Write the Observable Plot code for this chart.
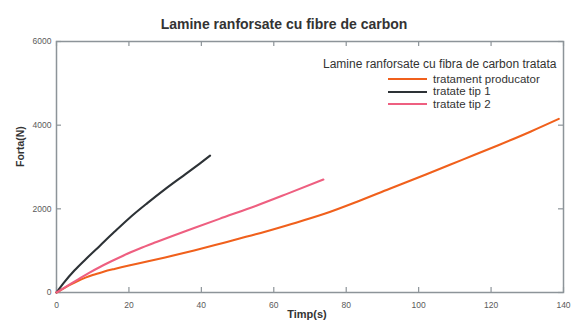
<!DOCTYPE html>
<html>
<head>
<meta charset="utf-8">
<script src="https://cdn.jsdelivr.net/npm/d3@7"></script>
<script src="https://cdn.jsdelivr.net/npm/@observablehq/plot@0.6"></script>
<style>
  body { margin: 0; background: #fff; font-family: "Liberation Sans", Arial, sans-serif; }
  #chart { position: relative; width: 571px; height: 322px; }
  #legend { position: absolute; left: 323px; top: 57px; color: #333; }
  #legend .head { font-size: 12px; white-space: nowrap; line-height: 15px; margin-bottom: 1px; }
  #legend .row { display: flex; align-items: center; margin-left: 65px; white-space: nowrap; font-size: 11.5px; line-height: 12.4px; }
  #legend .swatch { display: inline-block; width: 39px; height: 0; border-top: 2.2px solid; margin-right: 6px; }
</style>
</head>
<body>
<div id="chart"></div>
<script>
// Time (s) and force (N) samples for each laminate series
const tProducator = [0, 2, 4, 6, 8, 10, 13, 16, 20, 25, 30, 38, 46, 55, 64, 74, 83, 92, 102, 112, 122, 131, 138.7];
const fProducator = [0, 100, 195, 280, 355, 420, 497, 563, 645, 740, 838, 1005, 1185, 1390, 1615, 1880, 2170, 2480, 2820, 3170, 3520, 3850, 4150];

const tTip1 = [0, 2, 5, 8, 12, 16, 20, 25, 30, 35, 40, 42.4];
const fTip1 = [0, 230, 530, 790, 1120, 1450, 1770, 2130, 2470, 2790, 3110, 3270];

const tTip2 = [0, 2, 4, 6, 9, 12, 15, 18.4, 23, 27.6, 32, 38, 45, 55, 64, 73.7];
const fTip2 = [0, 105, 210, 315, 470, 610, 740, 880, 1050, 1205, 1350, 1540, 1760, 2070, 2370, 2700];

const seriesNames = ["tratament producator", "tratate tip 1", "tratate tip 2"];
const seriesColors = ["#f0601c", "#2d3236", "#ee5f80"];

const xTicks = [0, 20, 40, 60, 80, 100, 120, 140];
const yTicks = [0, 2000, 4000, 6000];

const chartTitle = "Lamine ranforsate cu fibre de carbon";
const legendTitle = "Lamine ranforsate cu fibra de carbon tratata";
const xLabel = "Timp(s)";
const yLabel = "Forta(N)";

const seriesData = [[tProducator, fProducator], [tTip1, fTip1], [tTip2, fTip2]];
const rows = seriesData.flatMap(([ts, fs], i) =>
  ts.map((t, j) => ({serie: seriesNames[i], t, f: fs[j]}))
);

const frameColor = "#8d9499";
const labelColor = "#5a5a5a";

const plot = Plot.plot({
  width: 571,
  height: 322,
  marginLeft: 56,
  marginRight: 8,
  marginTop: 41,
  marginBottom: 30,
  style: {fontFamily: "'Liberation Sans', Arial, sans-serif", background: "transparent"},
  x: {domain: [0, 140], ticks: xTicks, label: null},
  y: {domain: [0, 6000], ticks: yTicks, label: null},
  color: {domain: seriesNames, range: seriesColors},
  marks: [
    Plot.frame({stroke: frameColor, strokeWidth: 1.5}),
    // inward ticks on all four sides
    Plot.tickX(xTicks, {x: d => d, stroke: frameColor, strokeWidth: 1.2, insetTop: 246}),
    Plot.tickX(xTicks, {x: d => d, stroke: frameColor, strokeWidth: 1.2, insetBottom: 246}),
    Plot.tickY(yTicks, {y: d => d, stroke: frameColor, strokeWidth: 1.2, insetRight: 502}),
    Plot.tickY(yTicks, {y: d => d, stroke: frameColor, strokeWidth: 1.2, insetLeft: 502}),
    Plot.axisX({ticks: xTicks, tickFormat: d => String(d), tickSize: 0, tickPadding: 9, fontSize: 8.5, fill: labelColor, label: null}),
    Plot.axisY({ticks: yTicks, tickFormat: d => String(d), tickSize: 0, tickPadding: 5, fontSize: 8.5, fill: labelColor, label: null}),
    Plot.line(rows, {x: "t", y: "f", z: "serie", stroke: "serie", strokeWidth: 2.1, curve: "monotone-x"}),
    Plot.text([chartTitle], {frameAnchor: "top", dx: -26, dy: -22, fontSize: 14, fontWeight: "bold", fill: "#333"}),
    Plot.text([yLabel], {frameAnchor: "left", dx: -36, rotate: -90, fontSize: 10.5, fontWeight: "bold", fill: "#333"}),
    Plot.text([xLabel], {frameAnchor: "bottom", dx: -3, dy: 25, fontSize: 11, fontWeight: "bold", fill: "#333"})
  ]
});

const chart = document.getElementById("chart");
chart.appendChild(plot);

// Legend drawn over the upper right of the plot area
const legend = document.createElement("div");
legend.id = "legend";
const head = document.createElement("div");
head.className = "head";
head.textContent = legendTitle;
legend.appendChild(head);
seriesNames.forEach((name, i) => {
  const row = document.createElement("div");
  row.className = "row";
  const sw = document.createElement("span");
  sw.className = "swatch";
  sw.style.borderTopColor = seriesColors[i];
  const label = document.createElement("span");
  label.textContent = name;
  row.appendChild(sw);
  row.appendChild(label);
  legend.appendChild(row);
});
chart.appendChild(legend);
</script>
</body>
</html>
